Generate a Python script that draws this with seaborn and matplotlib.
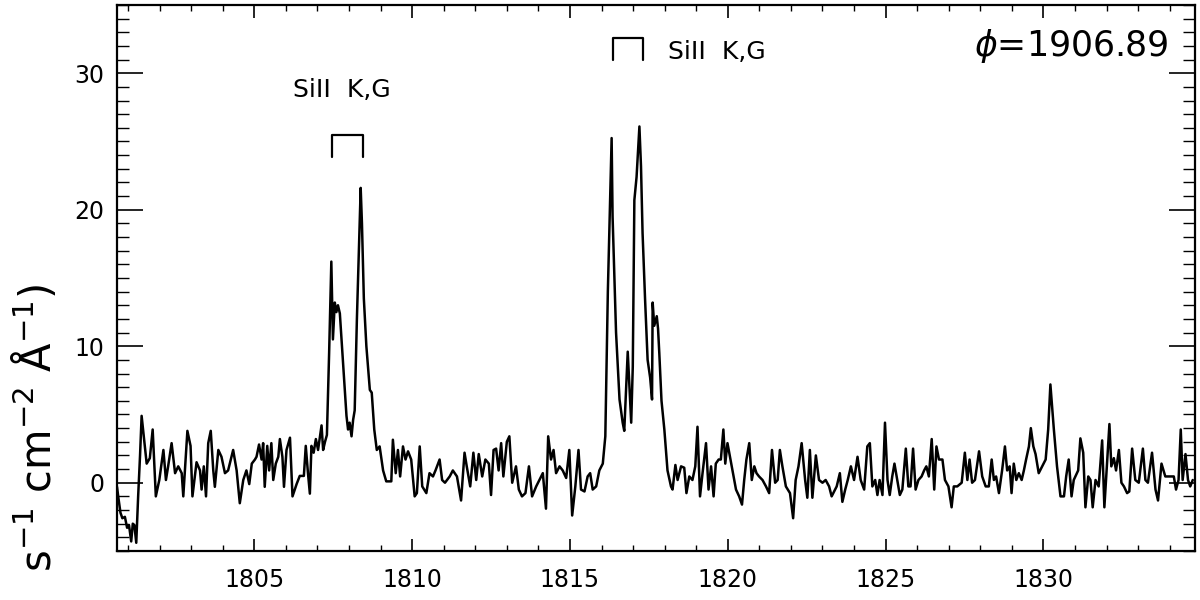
import matplotlib
matplotlib.use("Agg")
import matplotlib.pyplot as plt
from matplotlib.ticker import MultipleLocator, FixedLocator
import seaborn as sns
import pandas as pd

# ---- data ----
wave = [
    1800.65, 1800.70, 1800.76, 1800.82, 1800.90, 1800.97, 1801.03, 1801.10, 1801.15, 1801.20,
    1801.26, 1801.32, 1801.38, 1801.43, 1801.59, 1801.69, 1801.78, 1801.88, 1801.99, 1802.12,
    1802.20, 1802.27, 1802.38, 1802.49, 1802.59, 1802.70, 1802.75, 1802.88, 1802.98, 1803.04,
    1803.17, 1803.28, 1803.33, 1803.40, 1803.47, 1803.54, 1803.62, 1803.70, 1803.75, 1803.86,
    1803.96, 1804.07, 1804.17, 1804.33, 1804.44, 1804.54, 1804.65, 1804.75, 1804.84, 1804.92,
    1805.02, 1805.07, 1805.15, 1805.23, 1805.28, 1805.33, 1805.41, 1805.47, 1805.54, 1805.60,
    1805.68, 1805.76, 1805.81, 1805.89, 1805.94, 1806.02, 1806.13, 1806.21, 1806.34, 1806.44,
    1806.57, 1806.63, 1806.70, 1806.76, 1806.81, 1806.88, 1806.95, 1807.02, 1807.13, 1807.18,
    1807.24, 1807.30, 1807.37, 1807.44, 1807.49, 1807.55, 1807.60, 1807.65, 1807.71, 1807.81,
    1807.92, 1807.97, 1808.02, 1808.08, 1808.13, 1808.18, 1808.25, 1808.37, 1808.41, 1808.47,
    1808.55, 1808.66, 1808.72, 1808.80, 1808.88, 1808.97, 1809.08, 1809.18, 1809.34, 1809.39,
    1809.48, 1809.55, 1809.62, 1809.71, 1809.79, 1809.87, 1809.97, 1810.08, 1810.15, 1810.24,
    1810.32, 1810.45, 1810.55, 1810.66, 1810.74, 1810.87, 1810.95, 1811.04, 1811.19, 1811.29,
    1811.42, 1811.55, 1811.66, 1811.73, 1811.84, 1811.94, 1812.03, 1812.11, 1812.22, 1812.32,
    1812.43, 1812.50, 1812.58, 1812.66, 1812.74, 1812.82, 1812.89, 1813.00, 1813.08, 1813.17,
    1813.29, 1813.38, 1813.48, 1813.59, 1813.70, 1813.80, 1813.93, 1814.03, 1814.14, 1814.24,
    1814.31, 1814.40, 1814.48, 1814.56, 1814.67, 1814.77, 1814.88, 1814.98, 1815.07, 1815.17,
    1815.27, 1815.35, 1815.46, 1815.56, 1815.64, 1815.72, 1815.83, 1815.93, 1816.04, 1816.12,
    1816.20, 1816.32, 1816.35, 1816.46, 1816.57, 1816.67, 1816.72, 1816.83, 1816.88, 1816.94,
    1816.99, 1817.04, 1817.11, 1817.20, 1817.25, 1817.30, 1817.38, 1817.46, 1817.54, 1817.60,
    1817.62, 1817.67, 1817.75, 1817.79, 1817.83, 1817.90, 1817.99, 1818.09, 1818.20, 1818.25,
    1818.34, 1818.41, 1818.52, 1818.62, 1818.69, 1818.78, 1818.88, 1818.97, 1819.04, 1819.12,
    1819.20, 1819.31, 1819.39, 1819.47, 1819.55, 1819.62, 1819.71, 1819.78, 1819.86, 1819.92,
    1819.99, 1820.07, 1820.15, 1820.26, 1820.36, 1820.45, 1820.52, 1820.59, 1820.68, 1820.76,
    1820.84, 1820.91, 1820.99, 1821.10, 1821.21, 1821.31, 1821.40, 1821.50, 1821.58, 1821.65,
    1821.73, 1821.84, 1821.97, 1822.07, 1822.15, 1822.24, 1822.34, 1822.45, 1822.52, 1822.60,
    1822.68, 1822.79, 1822.89, 1823.00, 1823.10, 1823.21, 1823.29, 1823.37, 1823.45, 1823.55,
    1823.63, 1823.72, 1823.80, 1823.90, 1824.00, 1824.11, 1824.21, 1824.32, 1824.42, 1824.50,
    1824.58, 1824.67, 1824.74, 1824.81, 1824.90, 1824.98, 1825.06, 1825.13, 1825.21, 1825.28,
    1825.37, 1825.45, 1825.53, 1825.64, 1825.72, 1825.79, 1825.87, 1825.95, 1826.04, 1826.14,
    1826.22, 1826.29, 1826.37, 1826.46, 1826.54, 1826.61, 1826.69, 1826.80, 1826.88, 1826.99,
    1827.09, 1827.16, 1827.27, 1827.41, 1827.51, 1827.59, 1827.66, 1827.74, 1827.83, 1827.96,
    1828.06, 1828.17, 1828.27, 1828.36, 1828.43, 1828.50, 1828.59, 1828.69, 1828.78, 1828.85,
    1828.93, 1828.99, 1829.06, 1829.14, 1829.22, 1829.31, 1829.38, 1829.45, 1829.54, 1829.60,
    1829.68, 1829.75, 1829.85, 1829.96, 1830.07, 1830.15, 1830.22, 1830.33, 1830.43, 1830.54,
    1830.65, 1830.72, 1830.80, 1830.89, 1830.96, 1831.10, 1831.17, 1831.26, 1831.33, 1831.42,
    1831.49, 1831.56, 1831.65, 1831.75, 1831.86, 1831.93, 1832.02, 1832.09, 1832.15, 1832.23,
    1832.30, 1832.39, 1832.47, 1832.55, 1832.65, 1832.72, 1832.81, 1832.91, 1833.02, 1833.15,
    1833.23, 1833.31, 1833.44, 1833.55, 1833.63, 1833.74, 1833.86, 1833.97, 1834.13, 1834.20,
    1834.28, 1834.35, 1834.41, 1834.50, 1834.58, 1834.65, 1834.73,
]
flux = [
    -0.3, -1.2, -2.2, -2.6, -2.5, -3.3, -3.1, -4.3, -3.0, -3.1,
    -4.4, -1.0, 2.0, 4.9, 1.4, 1.8, 3.9, -1.0, 0.2, 2.4,
    0.2, 1.2, 2.9, 0.7, 1.2, 0.7, -1.0, 3.8, 2.7, -1.0,
    1.5, 0.9, -0.5, 1.2, -1.0, 2.9, 3.8, 0.9, -0.3, 2.4,
    1.9, 0.7, 0.9, 2.4, 0.9, -1.5, 0.2, 0.9, -0.1, 1.4,
    1.7, 1.9, 2.8, 1.7, 2.9, -0.3, 2.7, 0.9, 2.9, 0.2,
    1.4, 1.9, 3.2, 1.9, -0.3, 2.4, 3.3, -1.0, -0.1, 0.5,
    0.5, 2.7, 0.7, -0.8, 2.7, 2.2, 3.2, 2.4, 4.2, 2.4,
    3.0, 3.5, 9.5, 16.2, 10.5, 13.2, 12.5, 13.0, 12.4, 8.8,
    4.9, 3.9, 4.4, 3.4, 4.6, 5.3, 12.0, 21.6, 19.0, 13.5,
    10.0, 6.8, 6.6, 3.9, 2.4, 2.66, 0.9, 0.1, 0.1, 3.15,
    0.7, 2.4, 0.46, 2.66, 1.7, 2.3, 1.7, -1.0, -0.76, 2.66,
    -0.27, -0.76, 0.7, 0.46, 0.9, 1.7, 0.2, 0.0, 0.46, 0.9,
    0.46, -1.3, 2.2, 1.2, -0.27, 2.2, 0.2, 2.1, 0.46, 1.7,
    1.4, -0.9, 2.4, 2.5, 0.9, 2.9, 0.46, 3.0, 3.4, 0.0,
    1.2, -0.5, -1.0, -0.76, 1.2, -1.0, -0.27, 0.2, 0.7, -1.9,
    3.4, 1.7, 2.4, 0.7, 1.2, 0.9, 0.35, 2.4, -2.4, -0.27,
    2.4, -0.5, -0.64, 0.46, 0.7, -0.5, -0.27, 0.9, 1.4, 3.4,
    14.0, 25.25, 19.5, 11.0, 6.1, 4.4, 3.8, 9.6, 7.3, 4.4,
    8.5, 20.7, 22.4, 26.1, 23.2, 18.3, 13.4, 9.0, 7.7, 6.1,
    13.2, 11.5, 12.2, 11.3, 9.5, 6.0, 3.9, 0.9, -0.27, -0.5,
    1.3, 0.2, 1.2, 1.1, -0.76, 0.46, 0.2, 1.2, 4.1, -1.0,
    0.7, 2.9, -0.5, 1.2, -1.0, 1.4, 1.7, 1.7, 3.9, 1.4,
    2.9, 1.9, 0.9, -0.5, -1.0, -1.6, 0.2, 1.7, 2.9, 0.2,
    1.2, 0.7, 0.46, 0.2, -0.27, -0.76, 2.4, 0.0, 0.2, 2.4,
    1.2, -0.27, -0.76, -2.6, 0.2, 1.2, 2.9, 0.2, -1.1, 2.4,
    -1.1, 2.0, 0.2, 0.0, 0.2, -0.27, -1.0, -0.64, -0.27, 0.7,
    -1.4, -0.5, 0.2, 1.2, 0.2, 1.9, 0.2, -0.5, 2.66, 2.9,
    -0.27, 0.2, -0.9, 0.2, -0.9, 4.4, 0.2, -0.9, 0.46, 1.4,
    0.2, -0.9, -0.5, 2.5, -0.27, -0.27, 2.5, -0.5, 0.2, 0.46,
    0.9, 1.2, 0.46, 3.2, -0.5, 2.66, 1.7, 1.7, 0.2, -0.27,
    -1.8, -0.27, -0.27, 0.0, 2.2, 0.2, 1.7, 0.0, 0.2, 2.3,
    0.46, -0.27, -0.27, 1.7, 0.2, 0.46, -0.76, 0.9, 2.66, 0.9,
    1.2, -0.76, 1.4, 0.2, 0.7, 0.2, 0.9, 1.7, 2.66, 4.0,
    2.66, 2.1, 0.7, 1.2, 1.7, 3.9, 7.2, 3.9, 1.2, -1.0,
    -1.0, 0.46, 1.7, -1.0, 0.2, 0.9, 3.25, 2.2, -1.8, 0.46,
    0.2, -1.8, 0.2, -0.27, 3.1, -1.8, 1.7, 4.3, 1.2, 1.8,
    0.9, 2.4, 0.0, -0.27, -0.76, -0.64, 2.5, 0.2, 0.0, 2.5,
    0.2, 0.0, 2.2, -0.5, -1.3, 1.4, 0.46, 0.46, 0.46, -0.5,
    0.2, 3.9, 0.2, 2.1, 0.2, -0.27, 0.2,
]

xlim = (1800.65, 1834.8)
ylim = (-5, 35)
xticks = [1805, 1810, 1815, 1820, 1825, 1830]
yticks = [0, 10, 20, 30]

line_label = "SiII  K,G"
bracket1_x = [1807.45, 1808.43]
bracket1_y = [23.86, 25.48]
bracket2_x = [1816.35, 1817.30]
bracket2_y = [30.97, 32.58]
phase_text = r"$\phi$=1906.89"
ylabel_text = r"s$^{-1}$ cm$^{-2}$ Å$^{-1}$)"

# ---- plot ----
sns.set_style("ticks")
plt.rcParams["font.family"] = ["DejaVu Sans"]
plt.rcParams["mathtext.fontset"] = "dejavusans"
plt.rcParams["text.color"] = "black"
plt.rcParams["xtick.color"] = "black"
plt.rcParams["ytick.color"] = "black"
plt.rcParams["axes.edgecolor"] = "black"

fig = plt.figure(figsize=(12, 6), dpi=100)
ax = fig.add_axes([0.0975, 0.0817, 0.8983, 0.91])

df = pd.DataFrame({"wave": wave, "flux": flux})
sns.lineplot(data=df, x="wave", y="flux", ax=ax, color="black", lw=1.8,
             estimator=None, sort=False)

ax.set_xlim(*xlim)
ax.set_ylim(*ylim)
ax.xaxis.set_major_locator(FixedLocator(xticks))
ax.yaxis.set_major_locator(FixedLocator(yticks))
ax.xaxis.set_minor_locator(MultipleLocator(1))
ax.yaxis.set_minor_locator(MultipleLocator(1))
ax.tick_params(which="both", direction="in", top=True, right=True,
               colors="black", labelcolor="black")
ax.tick_params(axis="x", which="major", length=9, width=1.2, pad=12, labelsize=17)
ax.tick_params(axis="x", which="minor", length=4.5, width=1.0)
ax.tick_params(axis="y", which="major", length=19, width=1.2, pad=9, labelsize=17)
ax.tick_params(axis="y", which="minor", length=8.5, width=1.0)
ax.set_xlabel("")
ax.set_ylabel("")
for s in ax.spines.values():
    s.set_linewidth(1.6)
    s.set_color("black")

# brackets for the line identifications
for bx, by in ((bracket1_x, bracket1_y), (bracket2_x, bracket2_y)):
    ax.plot([bx[0], bx[0], bx[1], bx[1]], [by[0], by[1], by[1], by[0]],
            color="black", lw=1.6)

ax.text(1806.22, 28.77, line_label, fontsize=18, ha="left", va="center", color="black")
ax.text(1818.09, 31.56, line_label, fontsize=18, ha="left", va="center", color="black")
ax.text(1833.97, 32.0, phase_text, fontsize=25, ha="right", va="center", color="black")

fig.text(0.03, 0.527, ylabel_text, rotation=90, fontsize=30,
         ha="center", va="top", color="black")

fig.savefig("out.png", dpi=100)
